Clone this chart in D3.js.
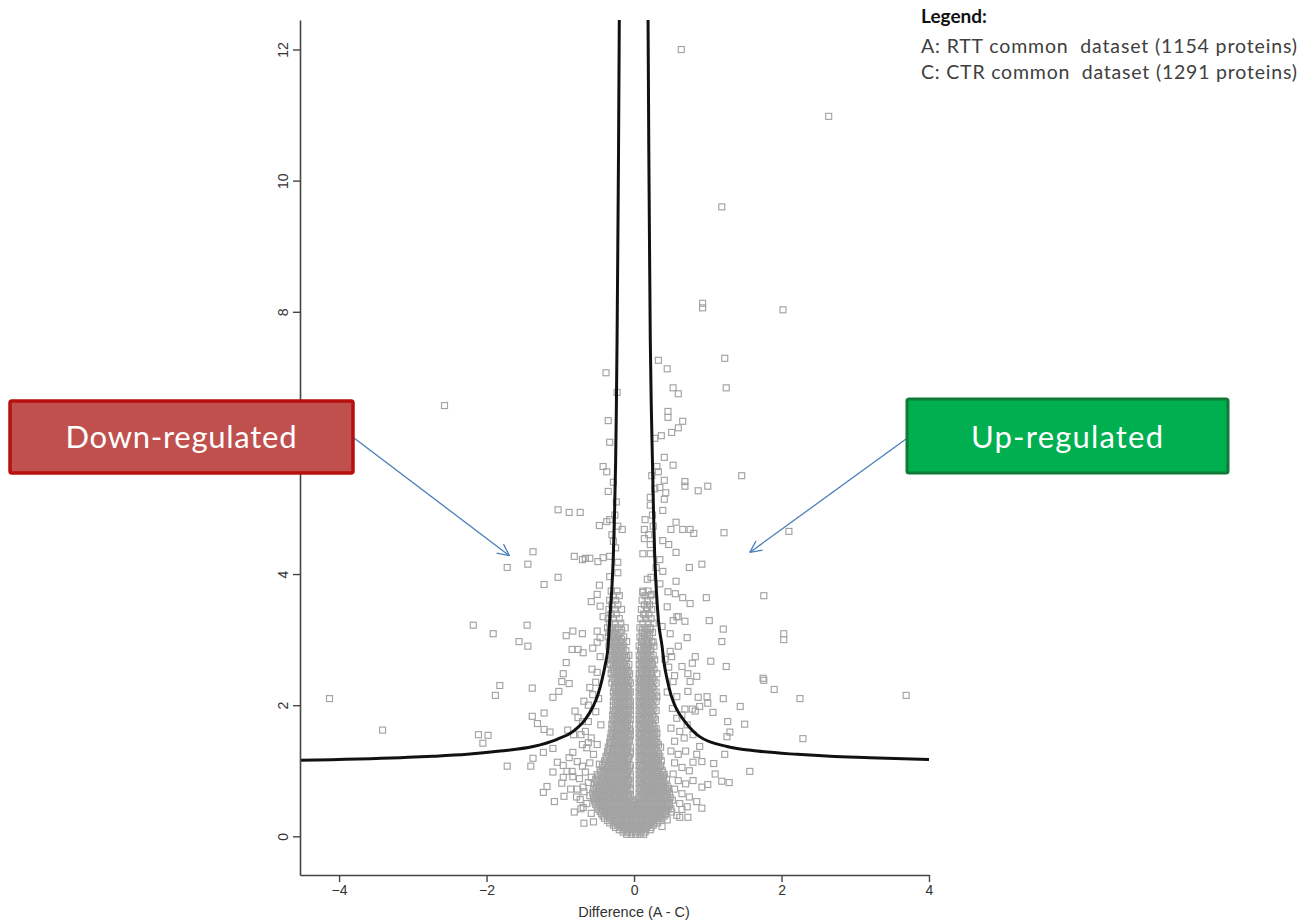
<!DOCTYPE html>
<html>
<head>
<meta charset="utf-8">
<script src="https://cdn.jsdelivr.net/npm/d3@7"></script>
<style>
  body { margin: 0; background: #fff; }
</style>
</head>
<body>
<div id="chart"></div>
<script>
// tick values
const xTicks = [-4, -2, 0, 2, 4];
const yTicks = [0, 2, 4, 6, 8, 10, 12];

// significance threshold curves [difference, -log p]
const leftCurve = [
  [-0.20, 12.45], [-0.21, 10.5], [-0.22, 9.0], [-0.23, 7.6], [-0.24, 6.5], [-0.25, 5.7],
  [-0.265, 4.9], [-0.28, 4.3], [-0.30, 3.8], [-0.33, 3.3], [-0.352, 2.90], [-0.39, 2.62],
  [-0.434, 2.39], [-0.49, 2.16], [-0.556, 1.98], [-0.664, 1.78], [-0.827, 1.60],
  [-1.043, 1.48], [-1.369, 1.37], [-1.816, 1.30], [-2.263, 1.25], [-2.724, 1.22],
  [-3.171, 1.20], [-4.53, 1.16]
];
const rightCurve = [
  [0.19, 12.45], [0.20, 10.5], [0.21, 9.0], [0.22, 7.6], [0.235, 6.5], [0.25, 5.7],
  [0.265, 4.9], [0.28, 4.3], [0.30, 3.8], [0.33, 3.3], [0.38, 2.90], [0.41, 2.62],
  [0.45, 2.39], [0.50, 2.16], [0.56, 1.98], [0.69, 1.75], [0.89, 1.52], [1.26, 1.37],
  [1.67, 1.30], [2.21, 1.25], [2.66, 1.22], [3.2, 1.20], [4.0, 1.17]
];

// proteins outside the dense core [difference, -log p]
const outlierPoints = [
  [0.64, 12.0], [2.64, 10.98], [1.19, 9.60], [0.93, 8.13], [0.93, 8.06], [2.02, 8.03],
  [1.23, 7.29], [-2.57, 6.57], [1.46, 5.50], [2.10, 4.65], [1.22, 4.63], [1.76, 3.67],
  [2.03, 3.09], [2.03, 3.00], [1.75, 2.41], [1.76, 2.38], [1.90, 2.24], [3.69, 2.15],
  [2.25, 2.10], [2.29, 1.49], [-4.13, 2.10], [-3.41, 1.62]
];

const upperLeftPoints = [
  [-0.38, 7.07], [-0.23, 6.77], [-0.35, 6.34], [-0.33, 6.01], [-0.42, 5.64], [-0.37, 5.56],
  [-0.35, 5.26], [-1.03, 4.98], [-0.88, 4.94], [-0.73, 4.94], [-0.47, 4.74], [-0.37, 4.80],
  [-0.33, 4.83], [-0.22, 4.73], [-0.16, 4.68], [-1.37, 4.34], [-1.44, 4.15], [-1.72, 4.10],
  [-0.81, 4.27], [-0.70, 4.22], [-0.66, 4.24], [-0.60, 4.24], [-0.49, 4.19], [-0.42, 4.25],
  [-0.33, 4.27], [-0.22, 4.18], [-1.03, 3.95], [-1.22, 3.84], [-0.47, 3.83], [-0.33, 3.96],
  [-0.22, 4.02], [-0.28, 4.5], [-0.25, 4.4], [-0.30, 4.6], [-0.26, 4.9], [-0.24, 5.1],
  [-0.28, 5.4]
];

const upperRightPoints = [
  [0.33, 7.26], [0.45, 7.13], [0.53, 6.84], [0.60, 6.75], [1.25, 6.84], [0.46, 6.48],
  [0.46, 6.39], [0.66, 6.33], [0.60, 6.23], [0.51, 6.16], [0.37, 6.11], [0.28, 6.07],
  [0.41, 5.78], [0.53, 5.66], [0.31, 5.64], [0.33, 5.56], [0.41, 5.43], [0.69, 5.41],
  [0.69, 5.34], [0.87, 5.27], [1.00, 5.34], [0.35, 5.32], [0.43, 5.24], [0.41, 5.14],
  [0.22, 5.17], [0.39, 4.97], [0.15, 4.83], [0.14, 4.68], [0.26, 4.73], [0.57, 4.79],
  [0.50, 4.68], [0.66, 4.68], [0.76, 4.68], [0.81, 4.62], [0.14, 4.54], [0.39, 4.51],
  [0.47, 4.45], [0.57, 4.33], [0.12, 4.31], [0.22, 4.31], [0.35, 4.22], [0.75, 4.10],
  [0.92, 4.15], [0.39, 4.04], [0.18, 3.92], [0.23, 3.95], [0.57, 3.89], [0.22, 4.45],
  [0.20, 4.6], [0.25, 4.9], [0.22, 5.05], [0.28, 5.3], [0.24, 5.5]
];

const lowerLeftPoints = [
  [-2.18, 3.22], [-1.91, 3.09], [-1.45, 3.22], [-1.56, 2.97], [-1.44, 2.90], [-0.58, 3.58],
  [-0.46, 3.51], [-0.42, 3.35], [-0.50, 3.69], [-0.92, 3.06], [-0.83, 3.13], [-0.70, 3.09],
  [-0.50, 3.13], [-0.46, 3.03], [-0.50, 2.96], [-0.84, 2.85], [-0.76, 2.85], [-0.69, 2.80],
  [-0.56, 2.87], [-0.46, 2.74], [-0.92, 2.65], [-0.96, 2.48], [-0.98, 2.36], [-0.88, 2.33],
  [-0.57, 2.55], [-0.50, 2.50], [-1.82, 2.30], [-1.88, 2.15], [-1.38, 2.26], [-1.02, 2.21],
  [-1.10, 2.12], [-0.60, 2.27], [-0.56, 2.16], [-0.68, 2.06], [-0.80, 1.91], [-0.76, 1.81],
  [-1.38, 1.83], [-1.22, 1.88], [-1.31, 1.72], [-1.22, 1.63], [-1.14, 1.59], [-2.11, 1.55],
  [-1.98, 1.54], [-2.05, 1.42], [-1.10, 1.34], [-1.23, 1.28], [-1.37, 1.19], [-1.40, 1.07],
  [-1.72, 1.07], [-1.04, 1.13], [-0.96, 1.08], [-0.91, 0.99], [-0.96, 0.90], [-0.98, 0.81],
  [-1.10, 0.98], [-0.83, 1.28], [-0.70, 1.40], [-0.62, 1.43], [-0.77, 1.14], [-0.70, 1.07],
  [-0.84, 0.99], [-0.83, 0.91], [-1.18, 0.76], [-1.23, 0.67], [-0.95, 0.61], [-0.77, 0.72],
  [-0.69, 0.75], [-0.73, 0.56], [-0.69, 0.44], [-1.08, 0.53], [-0.81, 0.37], [-0.68, 0.20],
  [-0.62, 1.75], [-0.66, 1.60], [-0.58, 1.50], [-0.72, 1.55], [-0.64, 1.35], [-0.55, 1.25],
  [-0.60, 1.12], [-0.66, 0.98], [-0.58, 0.90], [-0.74, 0.88], [-0.62, 0.82], [-0.68, 0.68],
  [-0.60, 0.62], [-0.78, 0.60], [-0.64, 0.50], [-0.58, 0.35], [-0.72, 0.42], [-0.55, 0.22],
  [-0.86, 0.72], [-0.88, 1.20], [-0.52, 1.90], [-0.48, 2.10], [-0.45, 1.70], [-0.50, 1.40],
  [-0.47, 1.10], [-0.52, 2.35], [-0.62, 2.00], [-0.70, 1.75], [-0.82, 1.55], [-0.90, 1.62]
];

const lowerRightPoints = [
  [0.98, 3.64], [1.02, 3.29], [1.21, 3.16], [1.19, 2.97], [1.04, 2.67], [1.25, 2.59],
  [0.66, 3.64], [0.76, 3.55], [0.56, 3.70], [0.46, 3.73], [0.58, 3.35], [0.53, 3.29],
  [0.69, 3.28], [0.49, 3.09], [0.72, 3.03], [0.83, 2.74], [0.79, 2.64], [0.65, 2.59],
  [0.73, 2.48], [0.85, 2.44], [0.76, 2.36], [0.73, 2.21], [0.53, 2.36], [0.58, 2.13],
  [0.47, 2.58], [0.51, 2.74], [0.87, 2.12], [0.99, 2.13], [0.89, 1.98], [1.00, 2.03],
  [0.83, 1.91], [0.79, 1.94], [0.69, 1.94], [1.21, 2.10], [1.07, 1.89], [1.44, 1.98],
  [1.27, 1.75], [1.50, 1.71], [1.30, 1.59], [1.26, 1.52], [0.89, 1.37], [1.23, 1.25],
  [1.57, 0.99], [1.08, 1.11], [1.10, 0.95], [1.19, 0.84], [1.29, 0.82], [1.00, 0.79],
  [0.92, 0.75], [0.80, 1.13], [0.92, 1.14], [0.85, 0.53], [0.92, 0.43], [0.73, 0.29],
  [0.62, 0.29], [0.51, 0.37], [0.65, 0.41], [0.12, 3.72], [0.24, 3.69], [0.18, 3.49],
  [0.15, 3.38], [0.22, 3.16], [0.26, 2.96], [0.18, 2.85], [0.49, 2.82], [0.60, 3.35],
  [0.52, 1.95], [0.58, 1.80], [0.50, 1.65], [0.62, 1.60], [0.55, 1.45], [0.68, 1.50],
  [0.50, 1.30], [0.60, 1.25], [0.70, 1.30], [0.55, 1.12], [0.65, 1.05], [0.75, 1.00],
  [0.53, 0.95], [0.60, 0.85], [0.70, 0.80], [0.80, 0.85], [0.55, 0.72], [0.65, 0.65],
  [0.75, 0.60], [0.52, 0.55], [0.62, 0.50], [0.72, 0.45], [0.50, 0.42], [0.58, 0.32],
  [0.45, 0.25], [0.38, 0.15], [0.85, 1.25], [0.80, 1.55], [0.72, 1.70], [0.65, 1.85],
  [0.45, 2.20], [0.55, 2.45], [0.42, 2.70], [0.60, 2.90], [0.38, 3.20], [0.45, 3.50],
  [0.35, 3.85], [0.30, 4.10]
];

// dense core near zero, one row per -log p level: [y, [differences]]
const coreRows = [
  [0.03, [-0.10, -0.04, 0.02, 0.08, 0.13]],
  [0.10, [-0.20, -0.14, -0.08, -0.02, 0.04, 0.10, 0.16, 0.22]],
  [0.17, [-0.28, -0.22, -0.16, -0.10, -0.04, 0.02, 0.08, 0.14, 0.20, 0.26]],
  [0.24, [-0.36, -0.30, -0.24, -0.18, -0.12, -0.06, 0.00, 0.06, 0.12, 0.18, 0.24, 0.30, 0.35]],
  [0.31, [-0.42, -0.36, -0.30, -0.24, -0.18, -0.12, -0.06, 0.00, 0.06, 0.12, 0.18, 0.24, 0.30, 0.36, 0.41]],
  [0.38, [-0.46, -0.40, -0.34, -0.28, -0.22, -0.16, -0.10, -0.04, 0.02, 0.08, 0.14, 0.20, 0.26, 0.32, 0.38, 0.44]],
  [0.45, [-0.50, -0.44, -0.38, -0.32, -0.26, -0.20, -0.14, -0.08, -0.02, 0.04, 0.10, 0.16, 0.22, 0.28, 0.34, 0.40, 0.46]],
  [0.52, [-0.53, -0.47, -0.41, -0.35, -0.29, -0.23, -0.17, -0.11, -0.05, 0.01, 0.07, 0.13, 0.19, 0.25, 0.31, 0.37, 0.43, 0.48]],
  [0.59, [-0.55, -0.49, -0.43, -0.37, -0.31, -0.25, -0.19, -0.13, -0.07, 0.07, 0.13, 0.19, 0.25, 0.31, 0.37, 0.43, 0.49]],
  [0.66, [-0.56, -0.50, -0.44, -0.38, -0.32, -0.26, -0.20, -0.14, -0.08, 0.07, 0.12, 0.18, 0.24, 0.30, 0.36, 0.42, 0.48]],
  [0.73, [-0.55, -0.48, -0.42, -0.36, -0.30, -0.24, -0.18, -0.12, -0.05, 0.07, 0.13, 0.19, 0.25, 0.31, 0.37, 0.43, 0.47]],
  [0.80, [-0.54, -0.47, -0.40, -0.34, -0.28, -0.22, -0.16, -0.10, -0.05, 0.07, 0.12, 0.18, 0.24, 0.30, 0.36, 0.42]],
  [0.87, [-0.52, -0.44, -0.38, -0.32, -0.26, -0.20, -0.14, -0.08, 0.07, 0.13, 0.19, 0.25, 0.31, 0.37, 0.44]],
  [0.94, [-0.50, -0.42, -0.35, -0.29, -0.23, -0.17, -0.11, -0.05, 0.07, 0.12, 0.18, 0.24, 0.30, 0.36, 0.41]],
  [1.01, [-0.46, -0.38, -0.32, -0.26, -0.20, -0.14, -0.08, 0.07, 0.13, 0.19, 0.25, 0.31, 0.38]],
  [1.08, [-0.43, -0.35, -0.29, -0.23, -0.17, -0.11, -0.05, 0.07, 0.12, 0.18, 0.24, 0.30, 0.36]],
  [1.15, [-0.40, -0.33, -0.27, -0.21, -0.15, -0.09, 0.07, 0.13, 0.19, 0.25, 0.31, 0.37]],
  [1.22, [-0.38, -0.31, -0.25, -0.19, -0.13, -0.07, 0.07, 0.12, 0.18, 0.24, 0.30, 0.35]],
  [1.29, [-0.36, -0.29, -0.23, -0.17, -0.11, -0.05, 0.07, 0.13, 0.19, 0.25, 0.31]],
  [1.36, [-0.35, -0.28, -0.22, -0.16, -0.10, -0.05, 0.07, 0.12, 0.18, 0.24, 0.30, 0.36]],
  [1.43, [-0.33, -0.27, -0.21, -0.15, -0.09, 0.07, 0.13, 0.19, 0.25, 0.31]],
  [1.50, [-0.32, -0.26, -0.20, -0.14, -0.08, 0.07, 0.12, 0.18, 0.24, 0.30]],
  [1.57, [-0.31, -0.25, -0.19, -0.13, -0.07, 0.07, 0.13, 0.19, 0.25, 0.31]],
  [1.64, [-0.30, -0.24, -0.18, -0.12, -0.06, 0.07, 0.12, 0.18, 0.24, 0.30]],
  [1.71, [-0.30, -0.24, -0.18, -0.12, -0.06, 0.07, 0.13, 0.19, 0.25]],
  [1.78, [-0.29, -0.23, -0.17, -0.11, -0.05, 0.07, 0.12, 0.18, 0.24, 0.29]],
  [1.85, [-0.29, -0.23, -0.17, -0.11, -0.05, 0.07, 0.13, 0.19, 0.25]],
  [1.92, [-0.28, -0.22, -0.16, -0.10, -0.05, 0.07, 0.12, 0.18, 0.24, 0.30]],
  [1.99, [-0.28, -0.22, -0.16, -0.10, -0.05, 0.07, 0.13, 0.19, 0.25]],
  [2.06, [-0.28, -0.22, -0.16, -0.10, -0.05, 0.07, 0.12, 0.18, 0.24, 0.30]],
  [2.13, [-0.27, -0.21, -0.15, -0.09, 0.07, 0.13, 0.19, 0.25, 0.31]],
  [2.20, [-0.28, -0.22, -0.16, -0.10, -0.05, 0.07, 0.12, 0.18, 0.24, 0.30]],
  [2.27, [-0.27, -0.21, -0.15, -0.09, 0.07, 0.13, 0.19, 0.25]],
  [2.34, [-0.30, -0.23, -0.17, -0.11, -0.05, 0.07, 0.12, 0.18, 0.24, 0.30]],
  [2.41, [-0.29, -0.22, -0.16, -0.10, 0.07, 0.13, 0.19, 0.25]],
  [2.48, [-0.31, -0.24, -0.18, -0.12, -0.06, 0.07, 0.12, 0.18, 0.24, 0.31]],
  [2.55, [-0.30, -0.23, -0.17, -0.11, 0.08, 0.14, 0.20, 0.27]],
  [2.62, [-0.32, -0.25, -0.19, -0.13, -0.07, 0.07, 0.13, 0.19, 0.25]],
  [2.69, [-0.31, -0.24, -0.18, -0.12, 0.08, 0.14, 0.21, 0.28]],
  [2.76, [-0.33, -0.26, -0.20, -0.13, -0.07, 0.07, 0.13, 0.19, 0.26]],
  [2.83, [-0.32, -0.25, -0.18, -0.11, 0.09, 0.15, 0.22]],
  [2.90, [-0.34, -0.27, -0.20, -0.14, 0.07, 0.13, 0.20, 0.27]],
  [2.97, [-0.33, -0.26, -0.19, -0.10, 0.10, 0.17, 0.24]],
  [3.04, [-0.35, -0.28, -0.21, -0.14, 0.08, 0.14, 0.21]],
  [3.11, [-0.34, -0.27, -0.19, 0.11, 0.18, 0.25]],
  [3.18, [-0.36, -0.29, -0.22, -0.12, 0.08, 0.15, 0.22]],
  [3.25, [-0.33, -0.26, -0.18, 0.12, 0.19, 0.26]],
  [3.32, [-0.35, -0.28, -0.20, 0.09, 0.16, 0.23]],
  [3.39, [-0.31, -0.24, 0.13, 0.20]],
  [3.46, [-0.34, -0.26, -0.17, 0.10, 0.17, 0.24]],
  [3.53, [-0.30, -0.22, 0.14, 0.21]],
  [3.60, [-0.33, -0.25, 0.11, 0.18, 0.26]],
  [3.67, [-0.28, -0.20, 0.15, 0.22]],
  [3.74, [-0.31, -0.23, 0.12, 0.19]]
];

// second, staggered layer of the core (the overlap makes it look solid)
const coreRowsStaggered = [
  [0.065, [-0.15, -0.09, -0.03, 0.03, 0.09, 0.15]],
  [0.135, [-0.25, -0.19, -0.13, -0.07, -0.01, 0.05, 0.11, 0.17, 0.23]],
  [0.205, [-0.33, -0.27, -0.21, -0.15, -0.09, -0.03, 0.03, 0.09, 0.15, 0.21, 0.27, 0.32]],
  [0.275, [-0.40, -0.33, -0.27, -0.21, -0.15, -0.09, -0.03, 0.03, 0.09, 0.15, 0.21, 0.27, 0.33, 0.38]],
  [0.345, [-0.44, -0.39, -0.33, -0.27, -0.21, -0.15, -0.09, -0.03, 0.03, 0.09, 0.15, 0.21, 0.27, 0.33, 0.39, 0.43]],
  [0.415, [-0.48, -0.43, -0.37, -0.31, -0.25, -0.19, -0.13, -0.07, -0.01, 0.05, 0.11, 0.17, 0.23, 0.29, 0.35, 0.41, 0.46]],
  [0.485, [-0.52, -0.47, -0.41, -0.35, -0.29, -0.23, -0.17, -0.11, -0.05, 0.01, 0.07, 0.13, 0.19, 0.25, 0.31, 0.37, 0.43, 0.48]],
  [0.555, [-0.54, -0.50, -0.44, -0.38, -0.32, -0.26, -0.20, -0.14, -0.08, -0.02, 0.04, 0.10, 0.16, 0.22, 0.28, 0.34, 0.40, 0.46]],
  [0.625, [-0.52, -0.46, -0.40, -0.34, -0.28, -0.22, -0.16, -0.10, -0.05, 0.10, 0.16, 0.22, 0.28, 0.34, 0.40, 0.45]],
  [0.695, [-0.53, -0.47, -0.41, -0.35, -0.29, -0.23, -0.17, -0.11, -0.05, 0.09, 0.15, 0.21, 0.27, 0.33, 0.39, 0.45]],
  [0.765, [-0.51, -0.45, -0.39, -0.33, -0.27, -0.21, -0.15, -0.09, 0.10, 0.16, 0.22, 0.28, 0.34, 0.40, 0.45]],
  [0.835, [-0.50, -0.43, -0.37, -0.31, -0.25, -0.19, -0.13, -0.07, 0.09, 0.15, 0.21, 0.27, 0.33, 0.39]],
  [0.905, [-0.48, -0.41, -0.35, -0.29, -0.23, -0.17, -0.11, -0.05, 0.10, 0.16, 0.22, 0.28, 0.34, 0.40]],
  [0.975, [-0.45, -0.39, -0.33, -0.27, -0.21, -0.15, -0.09, 0.09, 0.15, 0.21, 0.27, 0.33, 0.39]],
  [1.045, [-0.42, -0.36, -0.30, -0.24, -0.18, -0.12, -0.06, 0.10, 0.16, 0.22, 0.28, 0.34]],
  [1.115, [-0.39, -0.33, -0.27, -0.21, -0.15, -0.09, 0.09, 0.15, 0.21, 0.27, 0.33]],
  [1.185, [-0.37, -0.31, -0.25, -0.19, -0.13, -0.07, 0.10, 0.16, 0.22, 0.28, 0.33]],
  [1.255, [-0.35, -0.29, -0.23, -0.17, -0.11, -0.05, 0.09, 0.15, 0.21, 0.27, 0.33]],
  [1.325, [-0.33, -0.27, -0.21, -0.15, -0.09, 0.10, 0.16, 0.22, 0.28]],
  [1.395, [-0.32, -0.26, -0.20, -0.14, -0.08, 0.09, 0.15, 0.21, 0.27, 0.33]],
  [1.465, [-0.30, -0.24, -0.18, -0.12, -0.06, 0.10, 0.16, 0.22, 0.28]],
  [1.535, [-0.29, -0.23, -0.17, -0.11, -0.05, 0.09, 0.15, 0.21, 0.27]],
  [1.605, [-0.28, -0.22, -0.16, -0.10, -0.05, 0.10, 0.16, 0.22, 0.28]],
  [1.675, [-0.27, -0.21, -0.15, -0.09, 0.09, 0.15, 0.21, 0.27]],
  [1.745, [-0.27, -0.21, -0.15, -0.09, 0.10, 0.16, 0.22]],
  [1.815, [-0.26, -0.20, -0.14, -0.08, 0.09, 0.15, 0.21, 0.27]],
  [1.885, [-0.26, -0.20, -0.14, -0.08, 0.10, 0.16, 0.22]],
  [1.955, [-0.25, -0.19, -0.13, -0.07, 0.09, 0.15, 0.21, 0.27]],
  [2.025, [-0.25, -0.19, -0.13, -0.07, 0.10, 0.16, 0.22]],
  [2.095, [-0.25, -0.19, -0.13, -0.07, 0.09, 0.15, 0.21, 0.27]],
  [2.165, [-0.24, -0.18, -0.12, -0.07, 0.10, 0.16, 0.22]],
  [2.235, [-0.25, -0.19, -0.13, -0.07, 0.09, 0.15, 0.21, 0.27]],
  [2.305, [-0.26, -0.20, -0.14, -0.08, 0.10, 0.16, 0.22]],
  [2.375, [-0.26, -0.19, -0.13, -0.07, 0.09, 0.15, 0.21, 0.27]],
  [2.445, [-0.27, -0.21, -0.15, -0.09, 0.10, 0.16, 0.22]],
  [2.515, [-0.27, -0.20, -0.14, -0.08, 0.10, 0.17, 0.24]],
  [2.585, [-0.28, -0.22, -0.16, -0.10, 0.10, 0.16, 0.22]],
  [2.655, [-0.28, -0.21, -0.15, 0.11, 0.17, 0.24]],
  [2.725, [-0.29, -0.23, -0.16, -0.10, 0.10, 0.16, 0.23]],
  [2.795, [-0.29, -0.22, -0.15, 0.12, 0.18]],
  [2.865, [-0.30, -0.24, -0.17, 0.10, 0.17, 0.23]],
  [2.935, [-0.30, -0.23, -0.15, 0.13, 0.20]],
  [3.005, [-0.31, -0.24, -0.17, 0.11, 0.18]],
  [3.075, [-0.30, -0.23, 0.14, 0.21]],
  [3.145, [-0.32, -0.25, -0.17, 0.11, 0.18]]
];

const legendTitle = "Legend:";
const legendLines = [
  "A: RTT common  dataset (1154 proteins)",
  "C: CTR common  dataset (1291 proteins)"
];
const xLabel = "Difference (A - C)";

// where the annotation arrows point, in data units
const downArrowTip = [-1.69, 4.28];
const upArrowTip = [1.57, 4.33];

// Set up the SVG canvas
const width = 1315;
const height = 924;

const x = d3.scaleLinear()
  .domain([-4.53, 4])
  .range([300, 929]);

const y = d3.scaleLinear()
  .domain([-0.59, 12.45])
  .range([875, 20]);

const svg = d3.select("#chart").append("svg")
  .attr("width", width)
  .attr("height", height)
  .style("background", "#fff");

// flatten core rows into points
let corePoints = [];
coreRows.concat(coreRowsStaggered).forEach(row => {
  row[1].forEach(d => corePoints.push([d, row[0]]));
});

let allPoints = corePoints
  .concat(lowerLeftPoints, lowerRightPoints, upperLeftPoints, upperRightPoints, outlierPoints);

// proteins as hollow squares
svg.append("g")
  .selectAll("rect")
  .data(allPoints)
  .enter()
  .append("rect")
  .attr("x", d => x(d[0]) - 3)
  .attr("y", d => y(d[1]) - 3)
  .attr("width", 6)
  .attr("height", 6)
  .attr("fill", "none")
  .attr("stroke", "#a3a3a3")
  .attr("stroke-width", 1.15);

// threshold curves
const curveLine = d3.line()
  .x(d => x(d[0]))
  .y(d => y(d[1]))
  .curve(d3.curveMonotoneX);

[leftCurve, rightCurve].forEach(c => {
  svg.append("path")
    .datum(c.slice().sort((a, b) => a[0] - b[0]))
    .attr("fill", "none")
    .attr("stroke", "#111")
    .attr("stroke-width", 3)
    .attr("d", curveLine);
});

// axes
const xAxis = d3.axisBottom(x)
  .tickValues(xTicks)
  .tickSize(7)
  .tickSizeOuter(0)
  .tickPadding(3);

const yAxis = d3.axisLeft(y)
  .tickValues(yTicks)
  .tickSize(7)
  .tickSizeOuter(0);

const gx = svg.append("g")
  .attr("transform", `translate(0,${y.range()[0]})`)
  .call(xAxis);

const gy = svg.append("g")
  .attr("transform", `translate(${x.range()[0]},0)`)
  .call(yAxis);

[gx, gy].forEach(g => {
  g.select(".domain").attr("stroke", "#444").attr("stroke-width", 1.6);
  g.selectAll(".tick line").attr("stroke", "#444").attr("stroke-width", 1.4);
  g.selectAll(".tick text")
    .attr("fill", "#333")
    .style("font-family", "'Liberation Sans', Arial, sans-serif")
    .style("font-size", "14px");
});

gy.selectAll(".tick text")
  .attr("transform", "rotate(-90)")
  .attr("x", 0)
  .attr("y", -12)
  .attr("dy", 0)
  .style("text-anchor", "middle");

svg.append("text")
  .attr("x", x(0))
  .attr("y", 917)
  .attr("text-anchor", "middle")
  .attr("fill", "#333")
  .style("font-family", "'Liberation Sans', Arial, sans-serif")
  .style("font-size", "14.5px")
  .text(xLabel);

// legend (top right)
svg.append("text")
  .attr("x", 921)
  .attr("y", 23)
  .attr("fill", "#111")
  .style("font-family", "Lato, sans-serif")
  .style("font-weight", "bold")
  .style("font-size", "19px")
  .text(legendTitle);

svg.selectAll(".legend-line")
  .data(legendLines)
  .enter()
  .append("text")
  .attr("class", "legend-line")
  .attr("x", 921)
  .attr("y", (d, i) => 53 + i * 26)
  .attr("fill", "#404040")
  .attr("textLength", 376)
  .style("white-space", "pre")
  .style("font-family", "Lato, sans-serif")
  .style("font-size", "19.5px")
  .text(d => d);

// annotation arrows
function drawArrow(x1, y1, tip) {
  const x2 = x(tip[0]);
  const y2 = y(tip[1]);
  const ang = Math.atan2(y2 - y1, x2 - x1);
  const head = 13;
  svg.append("line")
    .attr("x1", x1).attr("y1", y1)
    .attr("x2", x2).attr("y2", y2)
    .attr("stroke", "#4a7ebb")
    .attr("stroke-width", 1.3);
  [-0.45, 0.45].forEach(a => {
    svg.append("line")
      .attr("x1", x2).attr("y1", y2)
      .attr("x2", x2 - head * Math.cos(ang + a))
      .attr("y2", y2 - head * Math.sin(ang + a))
      .attr("stroke", "#4a7ebb")
      .attr("stroke-width", 1.3);
  });
}

drawArrow(354, 438, downArrowTip);
drawArrow(906, 439, upArrowTip);

// label boxes
svg.append("rect")
  .attr("x", 10).attr("y", 401)
  .attr("width", 343).attr("height", 72)
  .attr("rx", 2)
  .attr("fill", "#c0504d")
  .attr("stroke", "#b80f0f")
  .attr("stroke-width", 3.5);

svg.append("text")
  .attr("x", 181).attr("y", 448)
  .attr("text-anchor", "middle")
  .attr("fill", "#fff")
  .attr("textLength", 231)
  .style("font-family", "Lato, sans-serif")
  .style("font-size", "31px")
  .text("Down-regulated");

svg.append("rect")
  .attr("x", 907).attr("y", 399)
  .attr("width", 321).attr("height", 74)
  .attr("rx", 2)
  .attr("fill", "#00b050")
  .attr("stroke", "#117a36")
  .attr("stroke-width", 3);

svg.append("text")
  .attr("x", 1067).attr("y", 448)
  .attr("text-anchor", "middle")
  .attr("fill", "#fff")
  .attr("textLength", 192)
  .style("font-family", "Lato, sans-serif")
  .style("font-size", "31px")
  .text("Up-regulated");
</script>
</body>
</html>
